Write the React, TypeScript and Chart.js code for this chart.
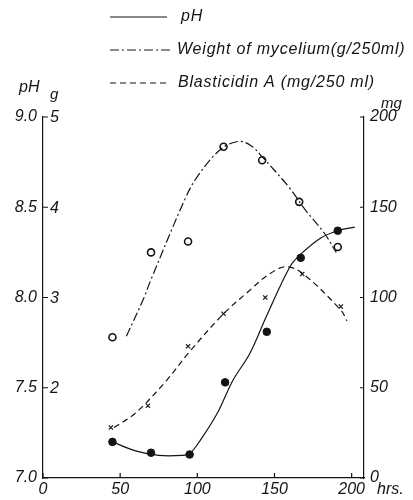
import { useEffect, useRef } from "react";
import { Chart, registerables } from "chart.js";
Chart.register(...registerables);

// Axis ticks
const xTicks = [0, 50, 100, 150, 200];
const phTicks = [7.0, 7.5, 8.0, 8.5, 9.0];
const gTicks = [2, 3, 4, 5];
const mgTicks = [0, 50, 100, 150, 200];

// pH (filled circles)
const phHours = [45, 70, 95, 118, 145, 167, 191];
const phValues = [7.2, 7.14, 7.13, 7.53, 7.81, 8.22, 8.37];
// pH fitted curve
const phCurveHours = [45, 60, 75, 90, 95, 102, 113, 123, 134, 145, 160, 167, 180, 191, 202];
const phCurveValues = [7.2, 7.15, 7.125, 7.125, 7.135, 7.21, 7.36, 7.54, 7.69, 7.9, 8.17, 8.24, 8.33, 8.37, 8.39];

// Weight of mycelium (open circles, g/250ml)
const mycHours = [45, 70, 94, 117, 142, 166, 191];
const mycValues = [2.56, 3.5, 3.62, 4.67, 4.52, 4.06, 3.56];
const mycCurveHours = [54, 65, 70, 92, 100, 115, 127, 135, 142, 159, 170, 182, 190];
const mycCurveValues = [2.57, 2.98, 3.2, 4.09, 4.34, 4.64, 4.73, 4.68, 4.56, 4.23, 3.97, 3.72, 3.5];

// Blasticidin A (crosses, mg/250ml)
const blaHours = [44, 68, 94, 117, 144, 168, 193];
const blaValues = [28, 40, 73, 91, 100, 113, 95];
const blaCurveHours = [46, 60, 80, 95, 117, 134, 145, 157, 168, 193, 197];
const blaCurveValues = [28, 36, 54, 70, 91, 104, 112, 117, 113.5, 93, 87];

const legendLabels = ["pH", "Weight of mycelium(g/250ml)", "Blasticidin A (mg/250 ml)"];

const FONT = "'Liberation Sans', 'DejaVu Sans', sans-serif";
const INK = "#141414";
const DASH_DOT = [9, 3, 2, 3];
const DASHED = [6, 4];

const pts = (xs: number[], ys: number[]) => xs.map((x, i) => ({ x, y: ys[i] }));

const overlay = {
  id: "overlay",
  afterDraw(chart: any) {
    const ctx = chart.ctx as CanvasRenderingContext2D;
    const { left, right, bottom } = chart.chartArea;
    const sx = chart.scales.x;
    const sph = chart.scales.ph;
    const sg = chart.scales.g;
    const smg = chart.scales.mg;
    ctx.save();
    ctx.strokeStyle = INK;
    ctx.fillStyle = INK;
    ctx.lineWidth = 1.2;
    // inside tick marks
    ctx.beginPath();
    phTicks.forEach((v) => {
      const y = sph.getPixelForValue(v);
      ctx.moveTo(left, y);
      ctx.lineTo(left + 5, y);
    });
    xTicks.forEach((v) => {
      const x = sx.getPixelForValue(v);
      ctx.moveTo(x, bottom);
      ctx.lineTo(x, bottom - 5);
    });
    mgTicks.forEach((v) => {
      const y = smg.getPixelForValue(v);
      ctx.moveTo(right, y);
      ctx.lineTo(right - 4, y);
    });
    ctx.stroke();

    ctx.font = `italic 16px ${FONT}`;
    ctx.textBaseline = "middle";
    ctx.textAlign = "left";
    gTicks.forEach((v) => {
      ctx.fillText(String(v), left + 7, sg.getPixelForValue(v) + 1);
    });
    // axis titles
    ctx.fillText("pH", 19, 88);
    ctx.font = `italic 15px ${FONT}`;
    ctx.fillText("g", 50, 95);
    ctx.fillText("mg", 381, 104);
    ctx.font = `italic 16px ${FONT}`;
    ctx.fillText("hrs.", 377, 490);

    // legend
    const rows = [17, 50, 83];
    const dashes = [[], DASH_DOT, DASHED];
    const ends = [167, 172, 170];
    const textX = [181, 177, 178];
    (ctx as any).letterSpacing = "0.8px";
    rows.forEach((y, i) => {
      ctx.setLineDash(dashes[i]);
      ctx.beginPath();
      ctx.moveTo(110, y);
      ctx.lineTo(ends[i], y);
      ctx.stroke();
      ctx.setLineDash([]);
      ctx.fillText(legendLabels[i], textX[i], y);
    });
    (ctx as any).letterSpacing = "0px";
    ctx.restore();
  },
};

export default function App() {
  const ref = useRef<HTMLCanvasElement>(null);
  useEffect(() => {
    if (!ref.current) return;
    const tickFont = { family: FONT, size: 16, style: "italic" as const };
    const curve = {
      borderColor: INK,
      borderWidth: 1.2,
      pointRadius: 0,
      tension: 0.35,
      fill: false,
    };
    const chart = new Chart(ref.current, {
      type: "line",
      data: {
        datasets: [
          { label: "pH curve", data: pts(phCurveHours, phCurveValues), yAxisID: "ph", ...curve },
          {
            label: "mycelium curve",
            data: pts(mycCurveHours, mycCurveValues),
            yAxisID: "g",
            borderDash: DASH_DOT,
            ...curve,
          },
          {
            label: "blasticidin curve",
            data: pts(blaCurveHours, blaCurveValues),
            yAxisID: "mg",
            borderDash: DASHED,
            ...curve,
          },
          {
            label: "pH",
            data: pts(phHours, phValues),
            yAxisID: "ph",
            showLine: false,
            pointStyle: "circle",
            pointRadius: 3.8,
            pointBackgroundColor: INK,
            pointBorderColor: INK,
            pointBorderWidth: 1,
          },
          {
            label: "mycelium",
            data: pts(mycHours, mycValues),
            yAxisID: "g",
            showLine: false,
            pointStyle: "circle",
            pointRadius: 3.5,
            pointBackgroundColor: "#fff",
            pointBorderColor: INK,
            pointBorderWidth: 1.6,
          },
          {
            label: "blasticidin",
            data: pts(blaHours, blaValues),
            yAxisID: "mg",
            showLine: false,
            pointStyle: "crossRot",
            pointRadius: 3,
            pointBorderColor: INK,
            pointBorderWidth: 1.2,
          },
        ],
      },
      options: {
        responsive: false,
        animation: false,
        events: [],
        layout: { padding: { top: 117, left: 0, right: 0, bottom: 0 } },
        plugins: { legend: { display: false }, tooltip: { enabled: false } },
        scales: {
          x: {
            type: "linear",
            min: 0,
            max: 208,
            afterBuildTicks: (s: any) => {
              s.ticks = xTicks.map((v) => ({ value: v }));
            },
            afterFit: (s: any) => {
              s.height = 22;
            },
            grid: { drawOnChartArea: false, drawTicks: false },
            border: { display: true, color: INK, width: 1.2 },
            ticks: { font: tickFont, color: INK, padding: 2, maxRotation: 0, autoSkip: false },
          },
          ph: {
            type: "linear",
            position: "left",
            min: 7,
            max: 9,
            afterBuildTicks: (s: any) => {
              s.ticks = phTicks.map((v) => ({ value: v }));
            },
            afterFit: (s: any) => {
              s.width = 43;
            },
            grid: { drawOnChartArea: false, drawTicks: false },
            border: { display: true, color: INK, width: 1.2 },
            ticks: {
              font: tickFont,
              color: INK,
              padding: 6,
              callback: (v: any) => Number(v).toFixed(1),
            },
          },
          g: { type: "linear", display: false, min: 1, max: 5 },
          mg: {
            type: "linear",
            position: "right",
            min: 0,
            max: 200,
            afterBuildTicks: (s: any) => {
              s.ticks = mgTicks.map((v) => ({ value: v }));
            },
            afterFit: (s: any) => {
              s.width = 49;
            },
            grid: { drawOnChartArea: false, drawTicks: false },
            border: { display: true, color: INK, width: 1.2 },
            ticks: { font: tickFont, color: INK, padding: 6 },
          },
        },
      },
      plugins: [overlay],
    });
    return () => chart.destroy();
  }, []);
  return (
    <div style={{ position: "absolute", left: 0, top: 0, width: 413, height: 500, background: "#fff" }}>
      <canvas ref={ref} width={413} height={500} />
    </div>
  );
}
